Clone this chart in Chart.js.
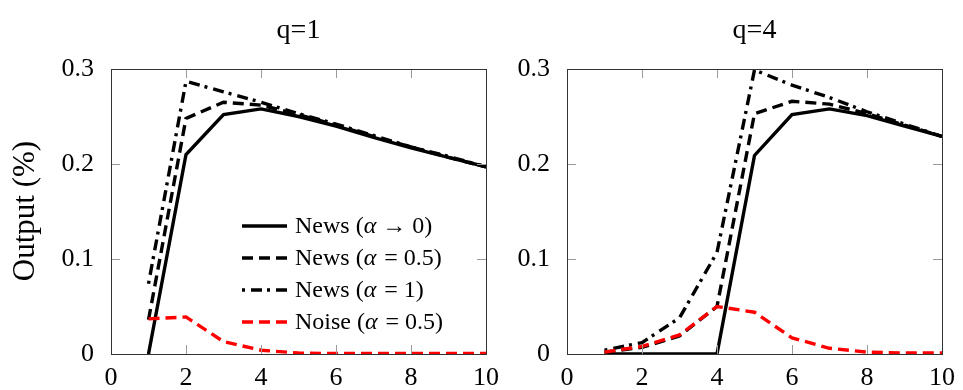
<!DOCTYPE html>
<html>
<head>
<meta charset="utf-8">
<script src="https://cdn.jsdelivr.net/npm/chart.js@4"></script>
<style>
  body { margin: 0; background: #fff; }
  .wrap { position: absolute; top: 0; height: 390px; }
  #leftWrap { left: 0; width: 500px; }
  #rightWrap { left: 500px; width: 463px; }
</style>
</head>
<body>
<div class="wrap" id="leftWrap"><canvas id="chartQ1"></canvas></div>
<div class="wrap" id="rightWrap"><canvas id="chartQ4"></canvas></div>
<script>
// Horizon (periods)
const periods = [1, 2, 3, 4, 5, 6, 7, 8, 9, 10];
const xTicks = [0, 2, 4, 6, 8, 10];
const yTicks = [0, 0.1, 0.2, 0.3];

// q=1
const q1NewsZero = [0, 0.21, 0.252, 0.258, 0.25, 0.24, 0.228, 0.217, 0.207, 0.197];
const q1NewsHalf = [0.036, 0.248, 0.265, 0.262, 0.252, 0.241, 0.229, 0.218, 0.207, 0.197];
const q1NewsOne = [0.074, 0.287, 0.276, 0.265, 0.253, 0.242, 0.23, 0.218, 0.208, 0.197];
const q1Noise = [0.037, 0.039, 0.013, 0.004, 0.001, 0.0005, 0.0005, 0.0005, 0.0005, 0.0005];

// q=4
const q4NewsZero = [0, 0, 0, 0, 0.209, 0.252, 0.258, 0.251, 0.24, 0.229];
const q4NewsHalf = [0.002, 0.007, 0.019, 0.05, 0.253, 0.266, 0.263, 0.253, 0.241, 0.229];
const q4NewsOne = [0.004, 0.012, 0.038, 0.107, 0.299, 0.283, 0.27, 0.255, 0.242, 0.229];
const q4Noise = [0.002, 0.008, 0.02, 0.05, 0.044, 0.017, 0.006, 0.002, 0.001, 0.001];

const seriesNames = ["News", "News", "News", "Noise"];
const seriesAlpha = ["\u2192 0)", "= 0.5)", "= 1)", "= 0.5)"];
const seriesColors = ["#000000", "#000000", "#000000", "#ff0000"];
const seriesDash = [[], [11, 6], [3, 6, 11, 5], [11, 6]];

const FONT = "'Liberation Serif', 'DejaVu Serif', serif";

function toPoints(values) {
  return periods.map((p, i) => ({ x: p, y: values[i] }));
}

// frame, inward ticks, title, y label and legend
const decorPlugin = {
  id: "decor",
  afterDraw(chart, args, opts) {
    const ctx = chart.ctx;
    const a = chart.chartArea;
    const xs = chart.scales.x;
    const ys = chart.scales.y;
    ctx.save();
    ctx.strokeStyle = "#9a9a9a";
    ctx.lineWidth = 1;
    ctx.beginPath();
    xTicks.forEach(v => {
      const px = Math.round(xs.getPixelForValue(v)) + 0.5;
      ctx.moveTo(px, a.bottom); ctx.lineTo(px, a.bottom - 9);
      ctx.moveTo(px, a.top); ctx.lineTo(px, a.top + 9);
    });
    yTicks.forEach(v => {
      const py = Math.round(ys.getPixelForValue(v)) + 0.5;
      ctx.moveTo(a.left, py); ctx.lineTo(a.left + 9, py);
      ctx.moveTo(a.right, py); ctx.lineTo(a.right - 9, py);
    });
    ctx.stroke();
    ctx.strokeStyle = "#333";
    ctx.strokeRect(Math.round(a.left) + 0.5, Math.round(a.top) + 0.5,
      Math.round(a.right - a.left), Math.round(a.bottom - a.top));

    ctx.fillStyle = "#000";
    ctx.font = "28px " + FONT;
    ctx.textAlign = "center";
    ctx.textBaseline = "middle";
    ctx.fillText(opts.title, (a.left + a.right) / 2, 31);

    if (opts.yTitle) {
      ctx.save();
      ctx.translate(26, 211);
      ctx.rotate(-Math.PI / 2);
      ctx.font = "31px " + FONT;
      ctx.fillText(opts.yTitle, 0, 0);
      ctx.restore();
    }

    if (opts.legend) {
      const rowY = [226, 258, 290, 322];
      seriesNames.forEach((name, i) => {
        const y = rowY[i];
        ctx.strokeStyle = seriesColors[i];
        ctx.lineWidth = 3.4;
        ctx.setLineDash(seriesDash[i]);
        ctx.beginPath();
        ctx.moveTo(242, y); ctx.lineTo(287, y);
        ctx.stroke();
        ctx.setLineDash([]);
        ctx.textAlign = "left";
        ctx.fillStyle = "#000";
        let x = 295;
        ctx.font = "24px " + FONT;
        const first = name + " (";
        ctx.fillText(first, x, y + 1);
        x += ctx.measureText(first).width;
        ctx.font = "italic 24px " + FONT;
        ctx.fillText("\u03b1", x, y + 1);
        x += ctx.measureText("\u03b1 ").width + (i === 0 ? 0 : 2);
        ctx.font = "24px " + FONT;
        ctx.fillText(seriesAlpha[i], x, y + 1);
      });
    }
    ctx.restore();
  }
};

function makeChart(id, data, cfg) {
  const datasets = data.map((vals, i) => ({
    label: seriesNames[i],
    data: toPoints(vals),
    borderColor: seriesColors[i],
    borderWidth: 3.4,
    borderDash: seriesDash[i],
    pointRadius: 0,
    tension: 0,
    fill: false,
    order: [2, 3, 4, 1][i]
  }));
  return new Chart(document.getElementById(id), {
    type: "line",
    data: { datasets },
    options: {
      responsive: true,
      maintainAspectRatio: false,
      animation: false,
      layout: { padding: { left: 0, right: cfg.padRight, top: 69, bottom: 0 } },
      plugins: {
        legend: { display: false },
        tooltip: { enabled: false },
        decor: { title: cfg.title, yTitle: cfg.yTitle, legend: cfg.legend }
      },
      scales: {
        x: {
          type: "linear",
          min: 0, max: 10,
          afterBuildTicks: s => { s.ticks = xTicks.map(v => ({ value: v })); },
          afterFit: s => { s.height = 36; },
          grid: { display: false },
          border: { display: false },
          ticks: { color: "#000", font: { family: FONT, size: 26 }, padding: 1, maxRotation: 0 }
        },
        y: {
          min: 0, max: 0.3,
          afterBuildTicks: s => { s.ticks = yTicks.map(v => ({ value: v })); },
          afterFit: s => { s.width = cfg.yWidth; },
          grid: { display: false },
          border: { display: false },
          ticks: {
            color: "#000", font: { family: FONT, size: 26 }, padding: 9,
            callback: v => String(+v.toFixed(1))
          }
        }
      }
    },
    plugins: [decorPlugin]
  });
}

makeChart("chartQ1", [q1NewsZero, q1NewsHalf, q1NewsOne, q1Noise],
  { title: "q=1", yTitle: "Output (%)", legend: true, yWidth: 111, padRight: 13 });
makeChart("chartQ4", [q4NewsZero, q4NewsHalf, q4NewsOne, q4Noise],
  { title: "q=4", yTitle: null, legend: false, yWidth: 67, padRight: 21 });
</script>
</body>
</html>
